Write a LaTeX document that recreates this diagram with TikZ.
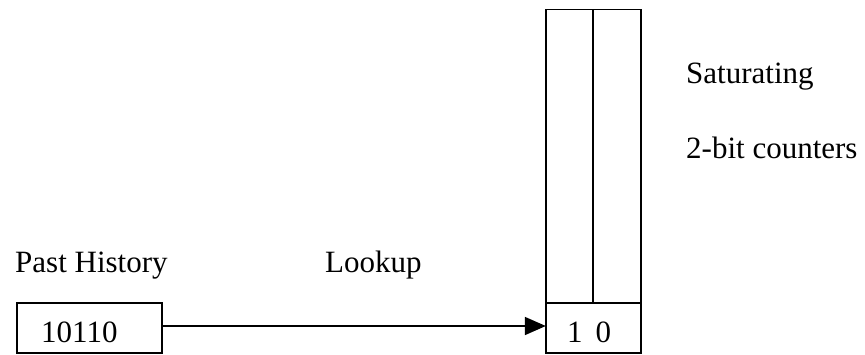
\documentclass[tikz,border=0pt]{standalone}
\usepackage{fontspec}
\setmainfont{Liberation Serif}
\usetikzlibrary{arrows.meta}
\begin{document}
\begin{tikzpicture}[x=1pt,y=-1pt,
  box/.style={draw,line width=1.8pt,inner sep=0pt},
  lbl/.style={inner sep=0pt,anchor=base west,font=\fontsize{31}{36}\selectfont},
  conn/.style={line width=1.8pt,-{Triangle[length=21pt,width=18pt]}}]
\useasboundingbox (0,0) rectangle (865,354);
% history register
\node[box,minimum width=145pt,minimum height=50pt] (hist) at (89.5,328) {};
\node[lbl] (histtxt) at (41,342) {10110};
% counter table
\node[box,minimum width=95pt,minimum height=343.5pt] (table) at (593.5,181.25) {};
\coordinate (cellnw) at (546,303);
\coordinate (cellne) at (641,303);
\coordinate (divtop) at (593,9.5);
\coordinate (divbot) at (593,303);
\draw[line width=1.8pt] (cellnw) -- (cellne);
\draw[line width=1.8pt] (divtop) -- (divbot);
\node[inner sep=0pt,minimum width=95pt,minimum height=50pt] (cell) at (593.5,328) {};
\node[lbl] (celltxt) at (567,342) {1\, 0};
% labels
\node[lbl] (past) at (15,272) {Past History};
\node[lbl] (lookup) at (325,272) {Lookup};
\node[lbl] (sat) at (686,83) {Saturating};
\node[lbl] (cnt) at (686,158) {2-bit counters};
% connector
\draw[conn] (hist.east |- 0,326) -- (cell.west |- 0,326);
\end{tikzpicture}
\end{document}
